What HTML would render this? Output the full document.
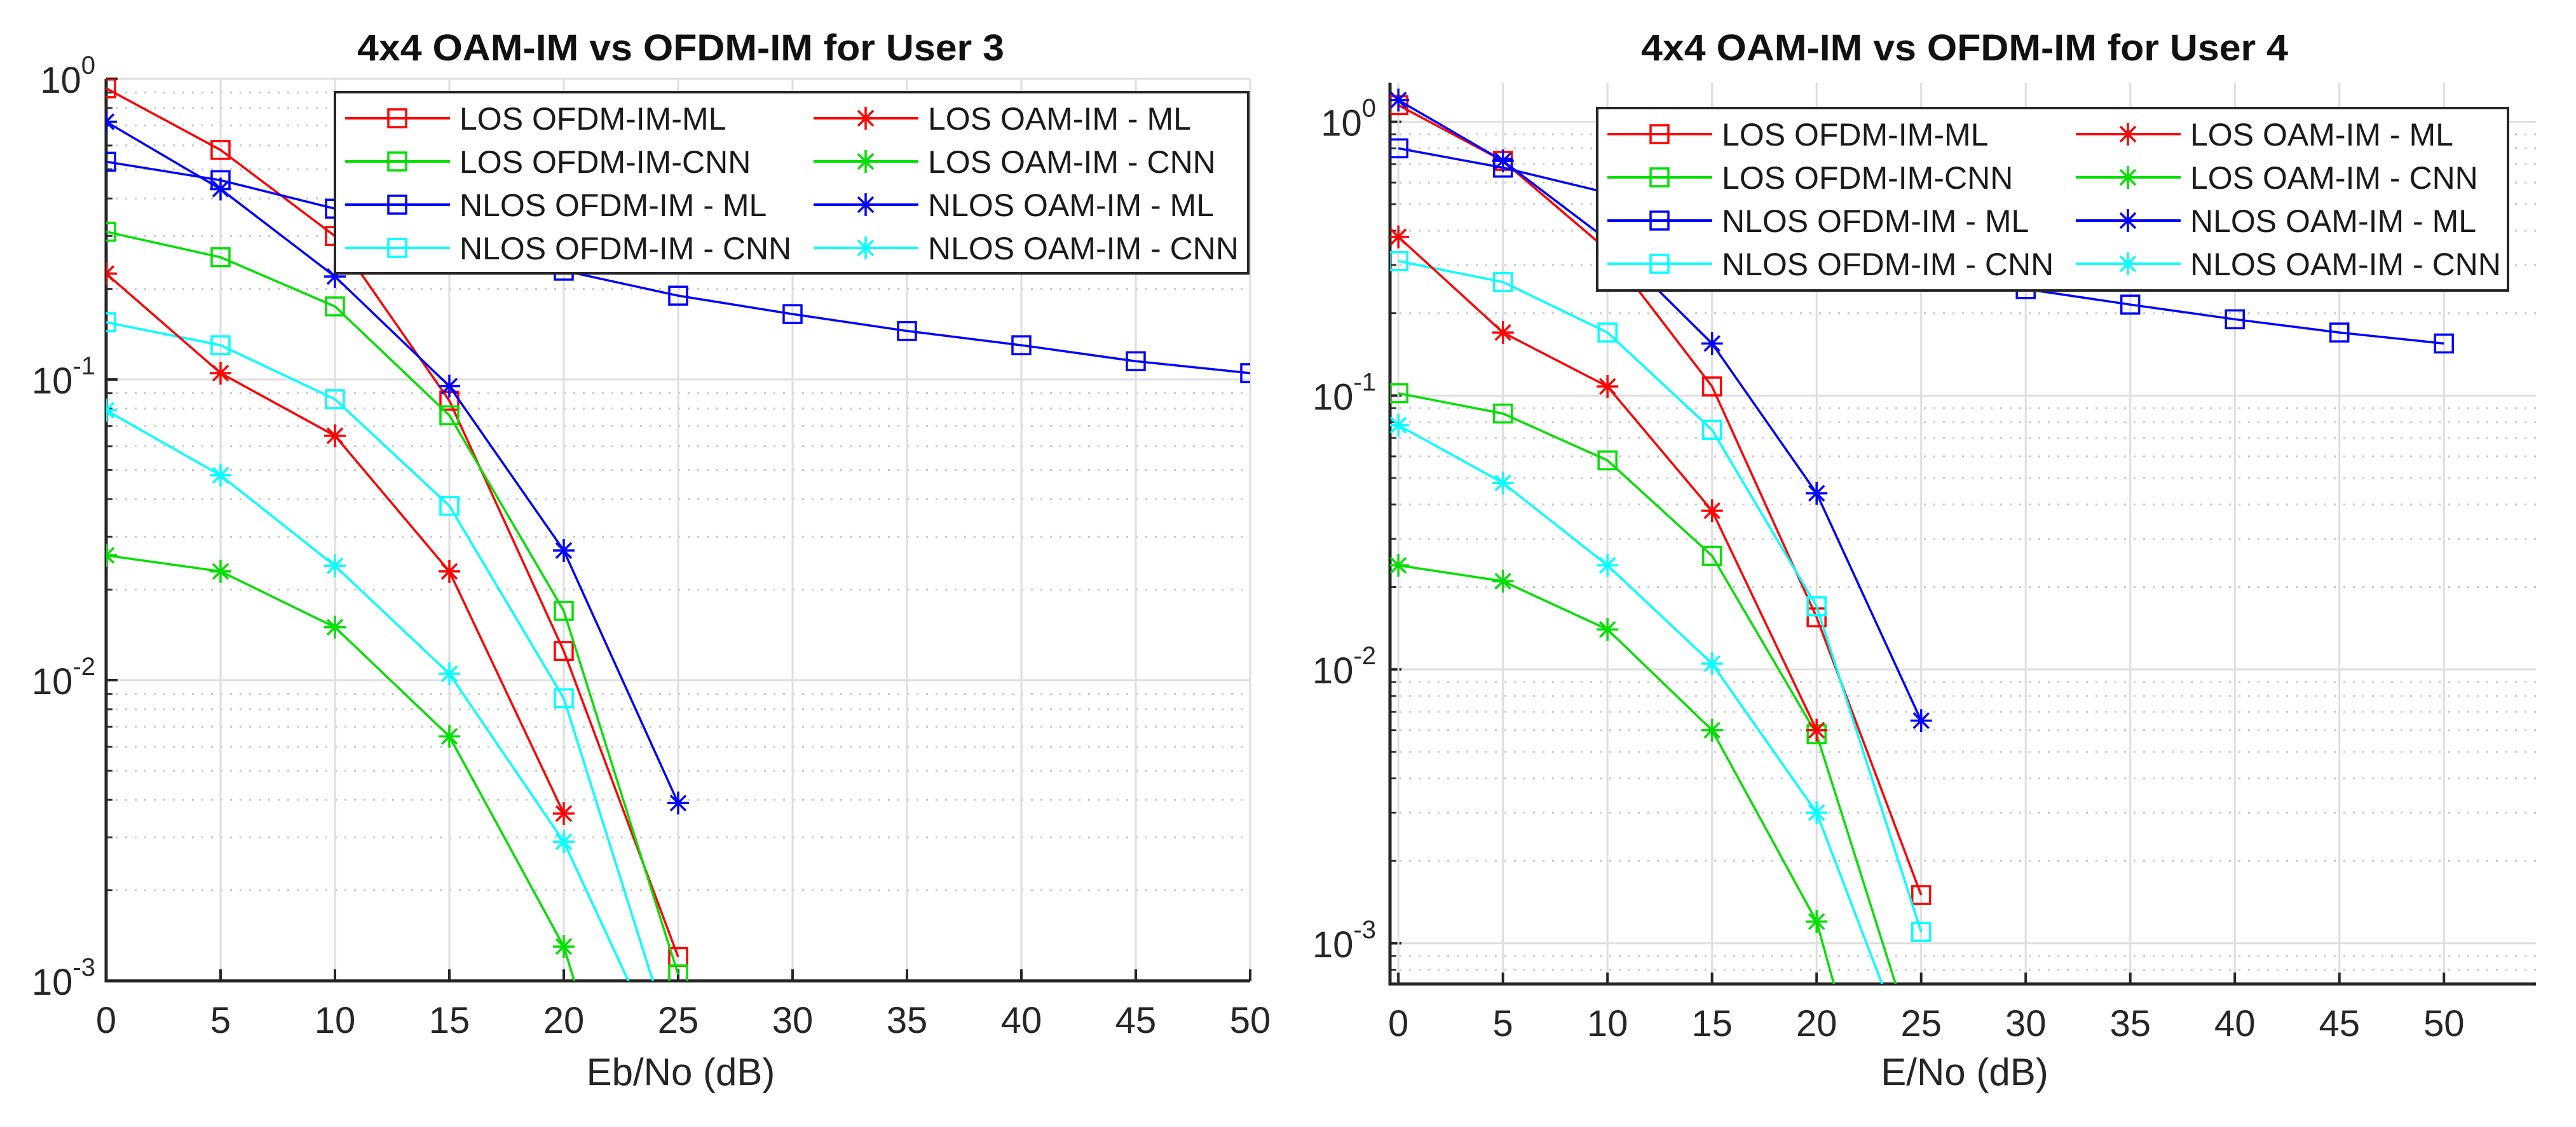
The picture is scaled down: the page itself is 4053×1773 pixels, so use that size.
<!DOCTYPE html>
<html><head><meta charset="utf-8">
<style>
html,body{margin:0;padding:0;background:#fff;width:4053px;height:1773px;overflow:hidden;}
svg{display:block;font-family:"Liberation Sans",Arial,sans-serif;}
</style></head>
<body>
<svg id="fig" width="4053" height="1773" viewBox="0 0 4053 1773" xmlns="http://www.w3.org/2000/svg">
<rect width="4053" height="1773" fill="#fff"/>
<defs>
<clipPath id="clipL"><rect x="167" y="124" width="1800" height="1419"/></clipPath>
<clipPath id="clipR"><rect x="2187" y="130" width="1803" height="1418"/></clipPath>
</defs>
<g id="plotL"></g>
<g id="plotR"></g>
</svg>
<script>
// ---- shared data ----
const xTicks = [0,5,10,15,20,25,30,35,40,45,50];
const seriesNames = ["LOS OFDM-IM-ML","LOS OFDM-IM-CNN","NLOS OFDM-IM - ML","NLOS OFDM-IM - CNN","LOS OAM-IM - ML","LOS OAM-IM - CNN","NLOS OAM-IM - ML","NLOS OAM-IM - CNN"];
const seriesColors = ["#ff0000","#00e000","#0000ff","#00ffff","#ff0000","#00e000","#0000ff","#00ffff"];
const seriesMarkers = ["square","square","square","square","star","star","star","star"];

// ---- User 3 data ----
const u3x = [0,5,10,15,20,25,30,35,40,45,50];
const u3LosOfdmMl   = [0.93,0.58,0.30,0.085,0.0125,0.0012];
const u3LosOfdmCnn  = [0.31,0.255,0.175,0.076,0.017,0.00105];
const u3NlosOfdmMl  = [0.53,0.46,0.37,0.29,0.23,0.19,0.165,0.145,0.13,0.115,0.105];
const u3NlosOfdmCnn = [0.155,0.13,0.086,0.038,0.0087,0.00054];
const u3LosOamMl    = [0.225,0.105,0.065,0.023,0.0036];
const u3LosOamCnn   = [0.026,0.023,0.015,0.0065,0.0013,0.000074];
const u3NlosOamMl   = [0.72,0.43,0.22,0.095,0.027,0.0039];
const u3NlosOamCnn  = [0.079,0.048,0.024,0.0105,0.0029,0.00044];

// ---- User 4 data ----
const u4x = [0,5,10,15,20,25,30,35,40,45,50];
const u4LosOfdmMl   = [1.15,0.72,0.34,0.108,0.0155,0.0015];
const u4LosOfdmCnn  = [0.102,0.086,0.058,0.026,0.0058,0.00036];
const u4NlosOfdmMl  = [0.8,0.68,0.55,0.42,0.33,0.28,0.245,0.215,0.19,0.17,0.155];
const u4NlosOfdmCnn = [0.31,0.26,0.17,0.075,0.017,0.0011];
const u4LosOamMl    = [0.38,0.17,0.108,0.038,0.006];
const u4LosOamCnn   = [0.024,0.021,0.014,0.006,0.0012,0.00005];
const u4NlosOamMl   = [1.2,0.72,0.37,0.155,0.044,0.0065];
const u4NlosOamCnn  = [0.078,0.048,0.024,0.0105,0.003,0.0003];

const yTickExps = [0,-1,-2,-3];

const NS="http://www.w3.org/2000/svg";
function mk(tag,attrs,parent){const e=document.createElementNS(NS,tag);for(const k in attrs)e.setAttribute(k,attrs[k]);if(parent)parent.appendChild(e);return e;}

function drawPlot(cfg){
  const g=document.getElementById(cfg.gid);
  const X=v=>cfg.x0+(v-cfg.xmin)*(cfg.x1-cfg.x0)/(cfg.xmax-cfg.xmin);
  const Y=v=>cfg.y0+(Math.log10(cfg.ymax)-Math.log10(v))*(cfg.y1-cfg.y0)/(Math.log10(cfg.ymax)-Math.log10(cfg.ymin));
  const grid=mk('g',{},g);
  
  
  for(let e=-4;e<=0;e++){for(let m=2;m<=9;m++){const v=m*Math.pow(10,e);if(v<cfg.ymin||v>cfg.ymax)continue;const y=Y(v);
    mk('line',{x1:cfg.x0,x2:cfg.x1,y1:y,y2:y,stroke:'#c8c8c8','stroke-width':3,'stroke-dasharray':'3 12'},grid);
    mk('line',{x1:cfg.x0,x2:cfg.x0+10,y1:y,y2:y,stroke:'#333','stroke-width':3},grid);}}
  yTickExps.forEach(e=>{const v=Math.pow(10,e);if(v<cfg.ymin||v>cfg.ymax)return;const y=Y(v);
    mk('line',{x1:cfg.x0,x2:cfg.x1,y1:y,y2:y,stroke:'#dedede','stroke-width':3},grid);
    mk('line',{x1:cfg.x0,x2:cfg.x0+18,y1:y,y2:y,stroke:'#262626','stroke-width':4},grid);
    const t=mk('text',{x:cfg.ylabX,y:y+22,'text-anchor':'end','font-size':58,fill:'#262626'},g);
    
    
    t.textContent='10';
    const s=mk('tspan',{dy:-30,'font-size':40},t);s.textContent=String(e);
  });
  xTicks.forEach(v=>{const x=X(v);
    mk('line',{x1:x,x2:x,y1:cfg.y0,y2:cfg.y1,stroke:'#dedede','stroke-width':3},grid);
    mk('line',{x1:x,x2:x,y1:cfg.y1,y2:cfg.y1-18,stroke:'#262626','stroke-width':4},grid);
    const t=mk('text',{x:x,y:cfg.y1+82,'text-anchor':'middle','font-size':58,fill:'#262626'},g);
    
    
    t.textContent=String(v);
  });
  const ax=mk('path',{d:`M${cfg.x0},${cfg.y0} V${cfg.y1} H${cfg.x1}`,fill:'none',stroke:'#262626','stroke-width':5},g);
  
  
  const sg=mk('g',{'clip-path':`url(#${cfg.clip})`},g);
  cfg.series.forEach((vals,i)=>{
    const pts=vals.map((v,j)=>[X(cfg.xs[j]),Y(v)]);
    const pl=mk('polyline',{points:pts.map(p=>p.join(',')).join(' '),fill:'none',stroke:seriesColors[i],'stroke-width':3.5},sg);
    
    
    pts.forEach(p=>drawMarker(sg,seriesMarkers[i],p[0],p[1],seriesColors[i]));
  });
  const lg=mk('g',{},g);
  
  
  mk('rect',{x:cfg.lx,y:cfg.ly,width:cfg.lw,height:cfg.lh,fill:'#fff',stroke:'#262626','stroke-width':4},lg);
  seriesNames.forEach((n,i)=>{
    const col=Math.floor(i/4),row=i%4;
    const bx=cfg.lx+16+col*cfg.colW, y=cfg.ly+41+row*68;
    const e=mk('g',{},lg);
    
    
    mk('line',{x1:bx,x2:bx+165,y1:y,y2:y,stroke:seriesColors[i],'stroke-width':4},e);
    drawMarker(e,seriesMarkers[i],bx+82,y,seriesColors[i]);
    const t=mk('text',{x:bx+180,y:y+18,'font-size':50,fill:'#1a1a1a'},e);
    t.textContent=n;
  });
  const tt=mk('text',{x:cfg.tx,y:95,'text-anchor':'middle','font-size':58,'font-weight':'bold',fill:'#111',textLength:1018,lengthAdjust:'spacingAndGlyphs'},g);
  
  
  tt.textContent=cfg.title;
  const xl=mk('text',{x:cfg.tx,y:1707,'text-anchor':'middle','font-size':60,fill:'#262626'},g);
  
  
  xl.textContent=cfg.xlabel;
}
function drawMarker(p,type,x,y,c){
  if(type==='square'){const m=mk('rect',{x:x-14,y:y-14,width:28,height:28,fill:'none',stroke:c,'stroke-width':3.5},p);
    
    }
  else{const m=mk('path',{d:`M${x-17},${y}H${x+17}M${x},${y-18}V${y+18}M${x-12},${y-12}L${x+12},${y+12}M${x-12},${y+12}L${x+12},${y-12}`,stroke:c,'stroke-width':3.5,fill:'none'},p);
    
    }
}
drawPlot({gid:'plotL',clip:'clipL',x0:167,x1:1967,y0:124,y1:1543,xmin:0,xmax:50,ymin:1e-3,ymax:1,ylabX:150,
  xs:u3x,series:[u3LosOfdmMl,u3LosOfdmCnn,u3NlosOfdmMl,u3NlosOfdmCnn,u3LosOamMl,u3LosOamCnn,u3NlosOamMl,u3NlosOamCnn],
  lx:527,ly:145,lw:1437,lh:285,colW:737,tx:1071,title:'4x4 OAM-IM vs OFDM-IM for User 3',xlabel:'Eb/No (dB)'});
drawPlot({gid:'plotR',clip:'clipR',x0:2187,x1:3990,y0:130,y1:1548,xmin:-0.4,xmax:54.4,ymin:7.1e-4,ymax:1.39,ylabX:2165,
  xs:u4x,series:[u4LosOfdmMl,u4LosOfdmCnn,u4NlosOfdmMl,u4NlosOfdmCnn,u4LosOamMl,u4LosOamCnn,u4NlosOamMl,u4NlosOamCnn],
  lx:2513,ly:170,lw:1433,lh:287,colW:737,tx:3091,title:'4x4 OAM-IM vs OFDM-IM for User 4',xlabel:'E/No (dB)'});
</script>
</body></html>
